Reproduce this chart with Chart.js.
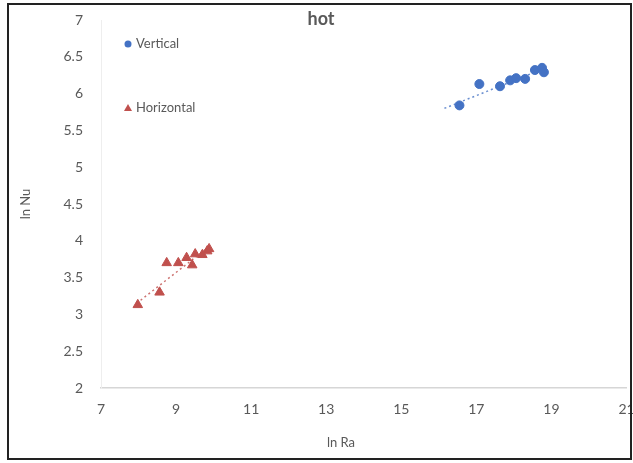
<!DOCTYPE html>
<html>
<head>
<meta charset="utf-8">
<script src="https://cdn.jsdelivr.net/npm/chart.js@4.4.0/dist/chart.umd.min.js"></script>
<style>
  html, body { margin: 0; padding: 0; background: #fff; overflow: hidden; }
  #wrap { position: relative; width: 633px; height: 463px; }
</style>
</head>
<body>
<div id="wrap"><canvas id="c" width="633" height="463"></canvas></div>
<script>
// Measured points: ln Ra (x) against ln Nu (y)
const verticalLnRa   = [16.55, 17.08, 17.63, 17.90, 18.06, 18.30, 18.56, 18.75, 18.80];
const verticalLnNu   = [5.84, 6.13, 6.10, 6.18, 6.21, 6.20, 6.32, 6.35, 6.29];
const horizontalLnRa = [7.98, 8.56, 8.75, 9.06, 9.28, 9.43, 9.51, 9.70, 9.83, 9.88];
const horizontalLnNu = [3.13, 3.30, 3.70, 3.70, 3.77, 3.67, 3.82, 3.81, 3.86, 3.89];

// Trend line end points
const verticalTrendRa   = [16.15, 18.8];
const verticalTrendNu   = [5.80, 6.34];
const horizontalTrendRa = [7.95, 9.9];
const horizontalTrendNu = [3.15, 3.93];

// Axis ranges and steps
const xRange = [7, 21];
const xStep = 2;
const yRange = [2, 7];
const yStep = 0.5;

const seriesNames = ['Vertical', 'Horizontal'];
const chartTitle = 'hot';
const xTitle = 'ln Ra';
const yTitle = 'ln Nu';

const BLUE = '#4472C4';
const RED = '#C0504D';
const TEXT = '#595959';
const FONT = 'Lato, "Open Sans", sans-serif';

const pts = (xs, ys) => xs.map((x, i) => ({ x: x, y: ys[i] }));

// Title, x-axis title, in-plot legend and outer frame
const decorations = {
  id: 'decorations',
  afterDraw(chart) {
    const ctx = chart.ctx;
    const ds = chart.data.datasets;
    ctx.save();
    ctx.fillStyle = TEXT;
    ctx.font = 'bold 18px ' + FONT;
    ctx.textAlign = 'center';
    ctx.textBaseline = 'middle';
    ctx.fillText(chartTitle, 321, 19);

    ctx.font = '13px ' + FONT;
    ctx.fillText(xTitle, 341, 443);

    // legend markers
    ctx.fillStyle = ds[0].backgroundColor;
    ctx.beginPath();
    ctx.arc(128, 44, 3.5, 0, Math.PI * 2);
    ctx.fill();
    ctx.fillStyle = ds[1].backgroundColor;
    ctx.beginPath();
    ctx.moveTo(128, 104);
    ctx.lineTo(132, 111);
    ctx.lineTo(124, 111);
    ctx.closePath();
    ctx.fill();

    // legend labels
    ctx.fillStyle = TEXT;
    ctx.font = '13px ' + FONT;
    ctx.textAlign = 'left';
    ctx.fillText(ds[0].label, 136, 44);
    ctx.fillText(ds[1].label, 136, 108);

    ctx.strokeStyle = '#222';
    ctx.lineWidth = 2;
    ctx.strokeRect(8, 4, 623, 455);
    ctx.restore();
  }
};

new Chart(document.getElementById('c'), {
  type: 'scatter',
  data: {
    datasets: [
      {
        label: seriesNames[0],
        data: pts(verticalLnRa, verticalLnNu),
        pointStyle: 'circle',
        pointRadius: 4.5,
        backgroundColor: BLUE,
        borderColor: BLUE,
        borderWidth: 1
      },
      {
        label: seriesNames[1],
        data: pts(horizontalLnRa, horizontalLnNu),
        pointStyle: 'triangle',
        pointRadius: 5.5,
        backgroundColor: RED,
        borderColor: RED,
        borderWidth: 1
      },
      {
        label: 'trend-v',
        data: pts(verticalTrendRa, verticalTrendNu),
        showLine: true,
        pointRadius: 0,
        borderColor: 'rgba(68,114,196,0.8)',
        borderWidth: 1.5,
        borderDash: [2, 3]
      },
      {
        label: 'trend-h',
        data: pts(horizontalTrendRa, horizontalTrendNu),
        showLine: true,
        pointRadius: 0,
        borderColor: 'rgba(192,80,77,0.8)',
        borderWidth: 1.5,
        borderDash: [2, 3]
      }
    ]
  },
  options: {
    responsive: false,
    animation: false,
    devicePixelRatio: 1,
    layout: { padding: { top: 20, right: 3, left: 0, bottom: 0 } },
    plugins: {
      legend: { display: false },
      tooltip: { enabled: false }
    },
    scales: {
      x: {
        type: 'linear',
        min: xRange[0],
        max: xRange[1],
        grid: { display: false, drawTicks: false },
        border: { display: true, color: '#d6d6d6', width: 1.5 },
        ticks: { stepSize: xStep, color: TEXT, font: { family: FONT, size: 14 }, padding: 13, maxRotation: 0 },
        afterFit(s) { s.paddingLeft = 0; s.paddingRight = 0; s.height = 75; }
      },
      y: {
        type: 'linear',
        min: yRange[0],
        max: yRange[1],
        grid: { display: false, drawTicks: false },
        border: { display: true, color: '#eeeeee', width: 1 },
        ticks: {
          stepSize: yStep,
          color: TEXT,
          font: { family: FONT, size: 14 },
          padding: 18,
          callback: v => String(Math.round(v * 10) / 10)
        },
        title: { display: true, text: yTitle, color: TEXT, font: { family: FONT, size: 13 }, padding: 18 },
        afterFit(s) { s.paddingTop = 0; s.paddingBottom = 0; s.width = 101; }
      }
    }
  },
  plugins: [decorations]
});
</script>
</body>
</html>
